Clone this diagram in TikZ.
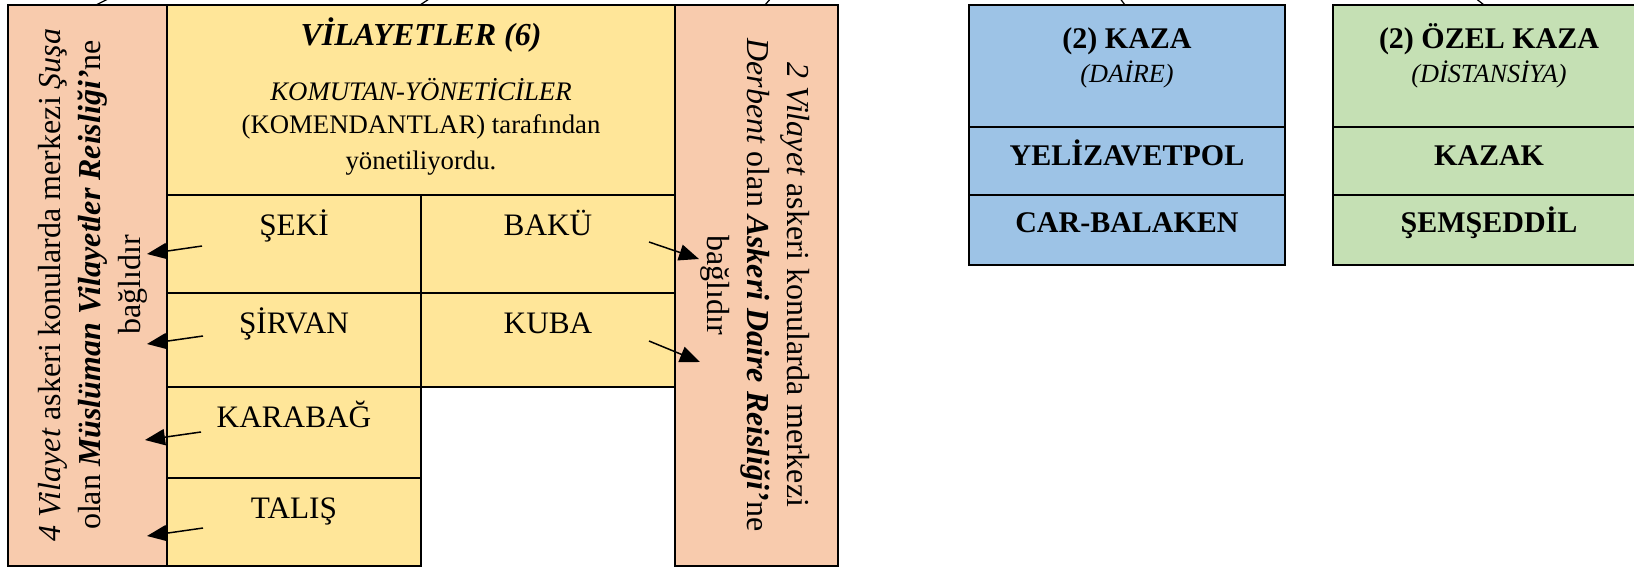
\documentclass[tikz,border=0pt]{standalone}
\usepackage{fontspec}
\setmainfont{Liberation Serif}
\usetikzlibrary{arrows.meta}
\definecolor{orangebox}{RGB}{248,203,173}
\definecolor{yellowbox}{RGB}{255,230,153}
\definecolor{bluebox}{RGB}{157,195,230}
\definecolor{greenbox}{RGB}{197,224,180}
\begin{document}
\begin{tikzpicture}[x=0.4pt,y=-0.4pt,
        every node/.style={font=\fontsize{12}{14}\selectfont, inner sep=0pt},
        cell/.style={draw, line width=1pt},
        headtext/.style={font=\fontsize{10.7}{13}\selectfont},
        rowtext/.style={font=\fontsize{12.5}{15}\selectfont},
        pointer/.style={-{Triangle[length=8pt,width=6.5pt]}, line width=0.6pt},
        sidetext/.style={align=center, font=\fontsize{12.8}{16}\selectfont}]
        \useasboundingbox (0,0) rectangle (1634,567);

        % stubs of the connectors coming from above
        \coordinate (P1) at (96,5);    \coordinate (Q1) at (112,-3);
        \coordinate (P2) at (420,5);   \coordinate (Q2) at (432,-3);
        \coordinate (P3) at (765,5);   \coordinate (Q3) at (772,-3);
        \coordinate (P4) at (1125,5);  \coordinate (Q4) at (1119,-3);
        \coordinate (P5) at (1484,5);  \coordinate (Q5) at (1474,-3);
        \draw[line width=0.5pt] (P1) -- (Q1);
        \draw[line width=0.5pt] (P2) -- (Q2);
        \draw[line width=0.5pt] (P3) -- (Q3);
        \draw[line width=0.5pt] (P4) -- (Q4);
        \draw[line width=0.5pt] (P5) -- (Q5);

        \draw[cell, fill=yellowbox] (167,5) rectangle (675,195);
        \draw[cell, fill=yellowbox] (167,195) rectangle (421,293);
        \draw[cell, fill=yellowbox] (421,195) rectangle (675,293);
        \draw[cell, fill=yellowbox] (167,293) rectangle (421,387);
        \draw[cell, fill=yellowbox] (421,293) rectangle (675,387);
        \draw[cell, fill=yellowbox] (167,387) rectangle (421,478);
        \draw[cell, fill=yellowbox] (167,478) rectangle (421,566);
        \draw[cell, fill=orangebox] (8,5) rectangle (167,566);
        \draw[cell, fill=orangebox] (675,5) rectangle (838,566);

        \node[anchor=base, font=\fontsize{12.8}{15}\selectfont] (vil) at (421,45) {\textbf{\textit{VİLAYETLER (6)}}};
        \node[headtext, anchor=base] (koma) at (421,100) {\textit{KOMUTAN-YÖNETİCİLER}};
        \node[headtext, anchor=base] (komb) at (421,133) {(KOMENDANTLAR) tarafından};
        \node[headtext, anchor=base] (komc) at (421,169) {yönetiliyordu.};

        \node[rowtext, anchor=base] (seki) at (294,235) {ŞEKİ};
        \node[rowtext, anchor=base] (baku) at (548,235) {BAKÜ};
        \node[rowtext, anchor=base] (sirvan) at (294,333) {ŞİRVAN};
        \node[rowtext, anchor=base] (kuba) at (548,333) {KUBA};
        \node[rowtext, anchor=base] (karabag) at (294,427) {KARABAĞ};
        \node[rowtext, anchor=base] (talis) at (294,518) {TALIŞ};

        \node[sidetext, rotate=90] (musluman) at (93,285)
            {\textit{4 Vilayet} askeri konularda merkezi \textit{Şuşa}\\
             olan \textbf{\textit{Müslüman Vilayetler Reisliği’}}ne\\ bağlıdır};
        \node[sidetext, rotate=-90] (askeri) at (755,285)
            {\textit{2 Vilayet} askeri konularda merkezi\\
             \textit{Derbent} olan \textbf{\textit{Askeri Daire Reisliği’}}ne\\ bağlıdır};

        \coordinate (S1) at (202,246);  \coordinate (T1) at (147,254);
        \coordinate (S2) at (203,336);  \coordinate (T2) at (147,344);
        \coordinate (S3) at (201,432);  \coordinate (T3) at (145,440);
        \coordinate (S4) at (203,528);  \coordinate (T4) at (147,536);
        \coordinate (S5) at (649,242);  \coordinate (T5) at (699,259);
        \coordinate (S6) at (649,341);  \coordinate (T6) at (700,362);
        \draw[pointer] (S1) -- (T1);
        \draw[pointer] (S2) -- (T2);
        \draw[pointer] (S3) -- (T3);
        \draw[pointer] (S4) -- (T4);
        \draw[pointer] (S5) -- (T5);
        \draw[pointer] (S6) -- (T6);

        % kaza
        \draw[cell, line width=0.8pt, fill=bluebox] (969,5) rectangle (1285,127);
        \draw[cell, line width=0.8pt, fill=bluebox] (969,127) rectangle (1285,195);
        \draw[cell, line width=0.8pt, fill=bluebox] (969,195) rectangle (1285,265);
        \node[anchor=base] (kaza) at (1127,48) {\textbf{(2) KAZA}};
        \node[anchor=base, font=\fontsize{10.5}{12}\selectfont] (daire) at (1127,82) {\textit{(DAİRE)}};
        \node[anchor=base] (yeliz) at (1127,165) {\textbf{YELİZAVETPOL}};
        \node[anchor=base] (car) at (1127,232) {\textbf{CAR-BALAKEN}};

        % ozel kaza
        \draw[cell, line width=0.8pt, fill=greenbox] (1333,5) rectangle (1649,127);
        \draw[cell, line width=0.8pt, fill=greenbox] (1333,127) rectangle (1649,195);
        \draw[cell, line width=0.8pt, fill=greenbox] (1333,195) rectangle (1649,265);
        \node[anchor=base] (ozel) at (1489,48) {\textbf{(2) ÖZEL KAZA}};
        \node[anchor=base, font=\fontsize{10.5}{12}\selectfont] (dist) at (1489,82) {\textit{(DİSTANSİYA)}};
        \node[anchor=base] (kazak) at (1489,165) {\textbf{KAZAK}};
        \node[anchor=base] (sems) at (1489,232) {\textbf{ŞEMŞEDDİL}};
\end{tikzpicture}
\end{document}
